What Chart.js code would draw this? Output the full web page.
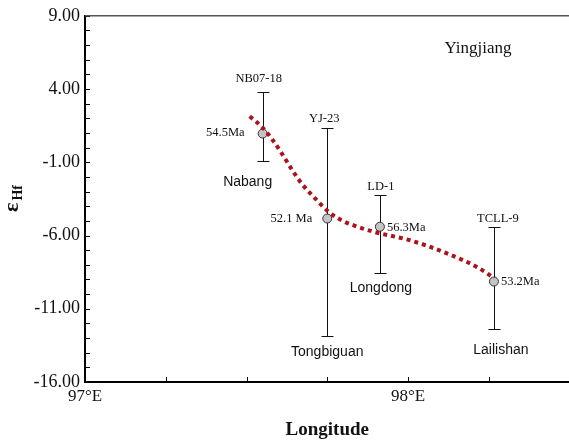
<!DOCTYPE html>
<html lang="en">
<head>
<meta charset="UTF-8">
<title>Yingjiang - εHf vs Longitude</title>
<script src="https://cdn.jsdelivr.net/npm/chart.js"></script>
<style>
    html, body { margin: 0; padding: 0; overflow: hidden; background: #fff; }
    #wrap { width: 575px; height: 441px; }
</style>
</head>
<body>
<div id="wrap"><canvas id="myChart" width="575" height="441"></canvas></div>
<script>
// samples
const sampleNames = ['NB07-18', 'YJ-23', 'LD-1', 'TCLL-9'];
const sampleLon   = [97.55, 97.75, 97.913, 98.266];
const sampleEps   = [0.96, -4.84, -5.40, -9.14];
const errHigh     = [3.82, 1.37, -3.20, -5.42];
const errLow      = [-0.90, -12.83, -8.57, -12.35];
const sampleAges  = ['54.5Ma', '52.1 Ma', '56.3Ma', '53.2Ma'];
const localities  = ['Nabang', 'Tongbiguan', 'Longdong', 'Lailishan'];

// dotted trend curve (hand traced)
const trendLon = [97.510, 97.551, 97.582, 97.610, 97.638, 97.670, 97.710, 97.754, 97.797, 97.844, 97.890, 98.010, 98.113, 98.215, 98.267];
const trendEps = [2.14, 1.34, 0.49, -0.42, -1.41, -2.43, -3.41, -4.38, -4.99, -5.40, -5.72, -6.35, -7.15, -8.17, -8.91];

// axes
const xMin = 97, xMax = 98.5, xStep = 0.25;
const yMin = -16, yMax = 9, yStep = 1, yLabelEvery = 5;
const panelTitle = 'Yingjiang';

// label offsets in px from each point (layout only)
const nameOff  = [[-4, -55], [-3, -100], [1, -40], [4, -63]];
const ageOff   = [[-18, -1, 'right'], [-15, 0, 'right'], [7, 1, 'left'], [7, 0, 'left']];
const placeOff = [[-15, 49], [0, 134], [1, 61], [7, 69]];

const serif = '"Liberation Serif", "Times New Roman", serif';
const sans = '"Liberation Sans", Arial, sans-serif';

const errorBars = {
    id: 'errorBars',
    beforeDatasetsDraw(chart) {
        const { ctx, scales: { x, y } } = chart;
        ctx.save();
        ctx.strokeStyle = '#111';
        ctx.lineWidth = 1;
        ctx.beginPath();
        sampleLon.forEach((lon, i) => {
            const px = Math.round(x.getPixelForValue(lon)) + 0.5;
            const top = Math.round(y.getPixelForValue(errHigh[i])) + 0.5;
            const bot = Math.round(y.getPixelForValue(errLow[i])) + 0.5;
            ctx.moveTo(px, top); ctx.lineTo(px, bot);
            ctx.moveTo(px - 6, top); ctx.lineTo(px + 6, top);
            ctx.moveTo(px - 6, bot); ctx.lineTo(px + 6, bot);
        });
        ctx.stroke();
        ctx.restore();
    }
};

const decorations = {
    id: 'decorations',
    afterDraw(chart) {
        const { ctx, chartArea: a, scales: { x, y } } = chart;
        ctx.save();

        // inward ticks
        ctx.strokeStyle = '#000';
        ctx.lineWidth = 1;
        ctx.beginPath();
        y.ticks.forEach(t => {
            const py = Math.round(y.getPixelForValue(t.value)) + 0.5;
            ctx.moveTo(a.left, py); ctx.lineTo(a.left + 5, py);
        });
        x.ticks.forEach(t => {
            if (Math.abs(t.value / xStep - Math.round(t.value / xStep)) > 1e-6) return;
            const px = Math.round(x.getPixelForValue(t.value)) + 0.5;
            ctx.moveTo(px, a.bottom); ctx.lineTo(px, a.bottom - 5);
        });
        ctx.stroke();

        // top frame line
        ctx.strokeStyle = '#555';
        ctx.lineWidth = 1.5;
        ctx.beginPath();
        ctx.moveTo(a.left, a.top); ctx.lineTo(a.right, a.top);
        ctx.stroke();

        // text labels
        ctx.fillStyle = '#111';
        ctx.textBaseline = 'middle';
        sampleLon.forEach((lon, i) => {
            const px = x.getPixelForValue(lon);
            const py = y.getPixelForValue(sampleEps[i]);
            ctx.font = '12.5px ' + serif;
            ctx.textAlign = 'center';
            ctx.fillText(sampleNames[i], px + nameOff[i][0], py + nameOff[i][1]);
            ctx.textAlign = ageOff[i][2];
            ctx.fillText(sampleAges[i], px + ageOff[i][0], py + ageOff[i][1]);
            ctx.font = '14px ' + sans;
            ctx.textAlign = 'center';
            ctx.fillText(localities[i], px + placeOff[i][0], py + placeOff[i][1]);
        });

        ctx.font = '17px ' + serif;
        ctx.textAlign = 'center';
        ctx.fillText(panelTitle, a.left + 393, a.top + 33);

        // y title: epsilon Hf, rotated
        ctx.translate(18, 212);
        ctx.rotate(-Math.PI / 2);
        ctx.textAlign = 'left';
        ctx.textBaseline = 'alphabetic';
        ctx.font = 'bold 22px ' + serif;
        ctx.fillText('ε', 0, 0);
        const w = ctx.measureText('ε').width;
        ctx.font = 'bold 14px ' + serif;
        ctx.fillText('Hf', w + 2, 4);
        ctx.restore();
    }
};

new Chart(document.getElementById('myChart').getContext('2d'), {
    type: 'scatter',
    data: {
        datasets: [
            {
                label: 'trend',
                data: trendLon.map((v, i) => ({ x: v, y: trendEps[i] })),
                showLine: true,
                borderColor: '#ab121b',
                borderWidth: 4,
                borderDash: [4, 4],
                borderCapStyle: 'butt',
                cubicInterpolationMode: 'monotone',
                pointRadius: 0
            },
            {
                label: 'samples',
                data: sampleLon.map((v, i) => ({ x: v, y: sampleEps[i] })),
                pointRadius: 4.5,
                pointBackgroundColor: '#c4c4c4',
                pointBorderColor: '#333',
                pointBorderWidth: 1,
                showLine: false
            }
        ]
    },
    options: {
        responsive: false,
        animation: false,
        layout: { padding: { top: 14, right: 3, left: 0, bottom: 0 } },
        plugins: { legend: { display: false }, tooltip: { enabled: false } },
        scales: {
            x: {
                type: 'linear',
                min: xMin, max: xMax,
                afterFit: s => { s.height = 59; },
                grid: { drawOnChartArea: false, drawTicks: false },
                border: { color: '#000', width: 2 },
                ticks: {
                    stepSize: xStep,
                    autoSkip: false,
                    maxRotation: 0,
                    padding: 4,
                    color: '#111',
                    font: { family: serif, size: 17 },
                    callback: v => Math.abs(v - Math.round(v)) < 1e-6 ? Math.round(v) + '°E' : ''
                },
                title: {
                    display: true,
                    text: 'Longitude',
                    color: '#111',
                    font: { family: serif, size: 19, weight: 'bold' },
                    padding: { top: 0, bottom: 0 }
                }
            },
            y: {
                min: yMin, max: yMax,
                afterFit: s => { s.width = 85; },
                grid: { drawOnChartArea: false, drawTicks: false },
                border: { color: '#000', width: 2 },
                ticks: {
                    stepSize: yStep,
                    autoSkip: false,
                    padding: 5,
                    color: '#111',
                    font: { family: serif, size: 18 },
                    callback: v => (Math.abs((v - yMax) % yLabelEvery) < 1e-6 ? v.toFixed(2) : '')
                }
            }
        }
    },
    plugins: [errorBars, decorations]
});
</script>
</body>
</html>
